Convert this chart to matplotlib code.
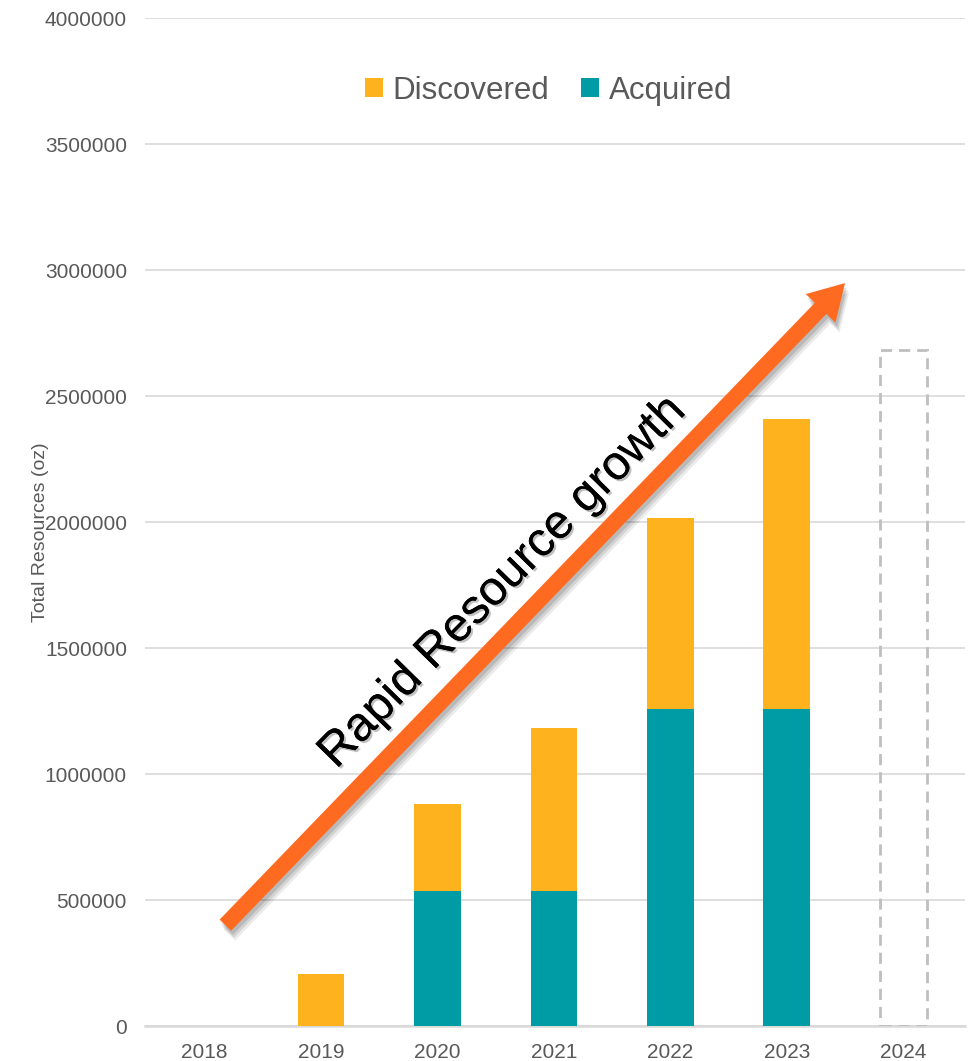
import matplotlib
matplotlib.use("Agg")
import matplotlib.pyplot as plt
from matplotlib.patches import Rectangle
import matplotlib.patheffects as pe

plt.rcParams['font.family'] = ['Liberation Sans', 'DejaVu Sans']

years = ["2018", "2019", "2020", "2021", "2022", "2023", "2024"]
acquired = [0, 0, 536000, 536000, 1258000, 1258000, 0]
discovered = [0, 205000, 345000, 647000, 758000, 1151000, 0]
projected_2024 = 2682000

c_disc = "#FDB21E"
c_acq = "#009CA6"
c_arrow = "#FF6A21"
grey_txt = "#595959"

fig = plt.figure(figsize=(9.73, 10.61), dpi=100)
ax = fig.add_axes([145/973, 35/1061, 820/973, 1008/1061])

x = list(range(len(years)))
w = 0.40
ax.bar(x, acquired, width=w, color=c_acq, label="Acquired", zorder=3)
ax.bar(x, discovered, width=w, bottom=acquired, color=c_disc, label="Discovered", zorder=3)

# projected 2024 dashed box
ax.add_patch(Rectangle((6 - w/2, 0), w, projected_2024, fill=False,
                       edgecolor="#BFBFBF", linestyle=(0, (4, 2.5)), linewidth=2, zorder=3))

ax.set_xlim(-0.51, 6.53)
ax.set_ylim(0, 4000000)
ax.set_yticks(range(0, 4000001, 500000))
ax.set_yticklabels([str(v) for v in range(0, 4000001, 500000)])
ax.set_xticks(x)
ax.set_xticklabels(years)
ax.grid(axis='y', color="#D9D9D9", linewidth=1.2, zorder=0)
ax.set_axisbelow(True)
for s in ['top', 'right', 'left']:
    ax.spines[s].set_visible(False)
ax.spines['bottom'].set_color("#D9D9D9")
ax.spines['bottom'].set_linewidth(1.8)
ax.tick_params(axis='both', length=0, labelsize=15, colors=grey_txt)
ax.tick_params(axis='y', pad=13)
ax.tick_params(axis='x', pad=12)
ax.set_ylabel("Total Resources (oz)", fontsize=14, color=grey_txt, labelpad=-3)
ax.yaxis.set_label_coords(-0.117, 0.49)

# arrow with soft shadow
tail = (0.18, 400000)
head = (5.50, 2948000)
style = "simple,head_width=2.7,head_length=2.3,tail_width=1.05"
for k, a in [(0.035, 0.08), (0.025, 0.10), (0.015, 0.12)]:
    ax.annotate("", xy=(head[0] + k, head[1] - k * 1.1e6), xytext=(tail[0] + k, tail[1] - k * 1.1e6),
                arrowprops=dict(arrowstyle=style, mutation_scale=11, color="#000000", alpha=a,
                                lw=0, shrinkA=0, shrinkB=0), zorder=4)
ax.annotate("", xy=head, xytext=tail,
            arrowprops=dict(arrowstyle=style, mutation_scale=11, color=c_arrow,
                            lw=0, shrinkA=0, shrinkB=0), zorder=5)

ax.text(2.56, 1760000, "Rapid Resource growth", rotation=45.5, rotation_mode='anchor',
        ha='center', va='center', fontsize=34.5, color="black", zorder=6,
        path_effects=[pe.withSimplePatchShadow(offset=(1.5, -1.5), shadow_rgbFace='#777777', alpha=0.45),
                      pe.Normal()])

handles, labels = ax.get_legend_handles_labels()
leg = ax.legend(handles[::-1], labels[::-1], loc='center', bbox_to_anchor=(0.492, 0.928), ncol=2,
                frameon=False, fontsize=22.5, handlelength=0.6, handleheight=0.6,
                handletextpad=0.3, columnspacing=1.0)
for t in leg.get_texts():
    t.set_color(grey_txt)

fig.savefig("out.png", dpi=100)
